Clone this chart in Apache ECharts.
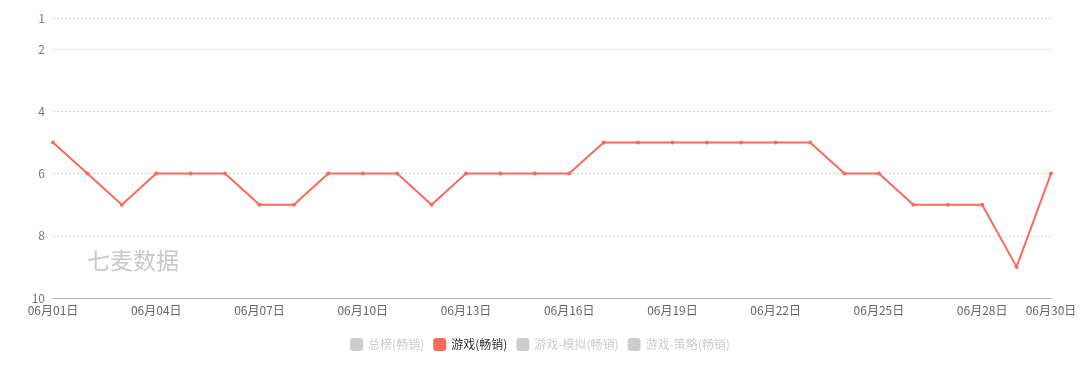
<!DOCTYPE html>
<html>
<head>
<meta charset="utf-8">
<script src="https://cdn.jsdelivr.net/npm/echarts@6/dist/echarts.min.js"></script>
<style>
  html, body { margin: 0; padding: 0; background: #fff; }
  #chart { width: 1080px; height: 376px; }
</style>
</head>
<body>
<div id="chart"></div>
<script>
// dates on the x axis
const days = [];
for (let d = 1; d <= 30; d++) {
  days.push("06月" + (d < 10 ? "0" + d : d) + "日");
}

// rank per day, 游戏(畅销)
const gameRank = [5, 6, 7, 6, 6, 6, 7, 7, 6, 6, 6, 7, 6, 6, 6, 6, 5, 5, 5, 5, 5, 5, 5, 6, 6, 7, 7, 7, 9, 6];

const seriesNames = ["总榜(畅销)", "游戏(畅销)", "游戏-模拟(畅销)", "游戏-策略(畅销)"];

const chart = echarts.init(document.getElementById("chart"));

const option = {
  textStyle: { fontFamily: "'Noto Sans CJK SC', sans-serif" },
  color: ["#f76b5e", "#f76b5e", "#f76b5e", "#f76b5e"],
  grid: { left: 53, right: 29, top: 18, bottom: 78 },
  legend: {
    bottom: 20,
    left: "center",
    icon: "roundRect",
    itemWidth: 13,
    itemHeight: 13,
    itemGap: 9,
    textStyle: { color: "#333", fontSize: 12 },
    inactiveColor: "#ccc",
    data: seriesNames,
    selected: {
      "总榜(畅销)": false,
      "游戏(畅销)": true,
      "游戏-模拟(畅销)": false,
      "游戏-策略(畅销)": false
    }
  },
  graphic: [{
    type: "text",
    left: 87,
    top: 249,
    style: {
      text: "七麦数据",
      fill: "#c8c8c8",
      fontSize: 23,
      fontFamily: "'Noto Sans CJK SC', sans-serif"
    }
  }],
  xAxis: {
    type: "category",
    data: days,
    boundaryGap: false,
    axisLine: { lineStyle: { color: "#a9b3c4" } },
    axisTick: { show: false },
    axisLabel: {
      color: "#666",
      fontSize: 12,
      interval: 2,
      showMaxLabel: true,
      margin: 6
    }
  },
  yAxis: {
    type: "value",
    inverse: true,
    min: 1,
    max: 10,
    axisLine: { show: false },
    axisTick: { show: false },
    axisLabel: { color: "#777", fontSize: 12, margin: 8 },
    splitLine: { lineStyle: { color: "#d4d4d4", type: [2, 2] } }
  },
  series: [
    { name: seriesNames[0], type: "line", data: [] },
    {
      name: seriesNames[1],
      type: "line",
      data: gameRank,
      symbol: "circle",
      symbolSize: 4,
      lineStyle: { width: 2, color: "#f76b5e" },
      itemStyle: { color: "#f76b5e" }
    },
    { name: seriesNames[2], type: "line", data: [] },
    { name: seriesNames[3], type: "line", data: [] }
  ]
};

chart.setOption(option);
</script>
</body>
</html>
